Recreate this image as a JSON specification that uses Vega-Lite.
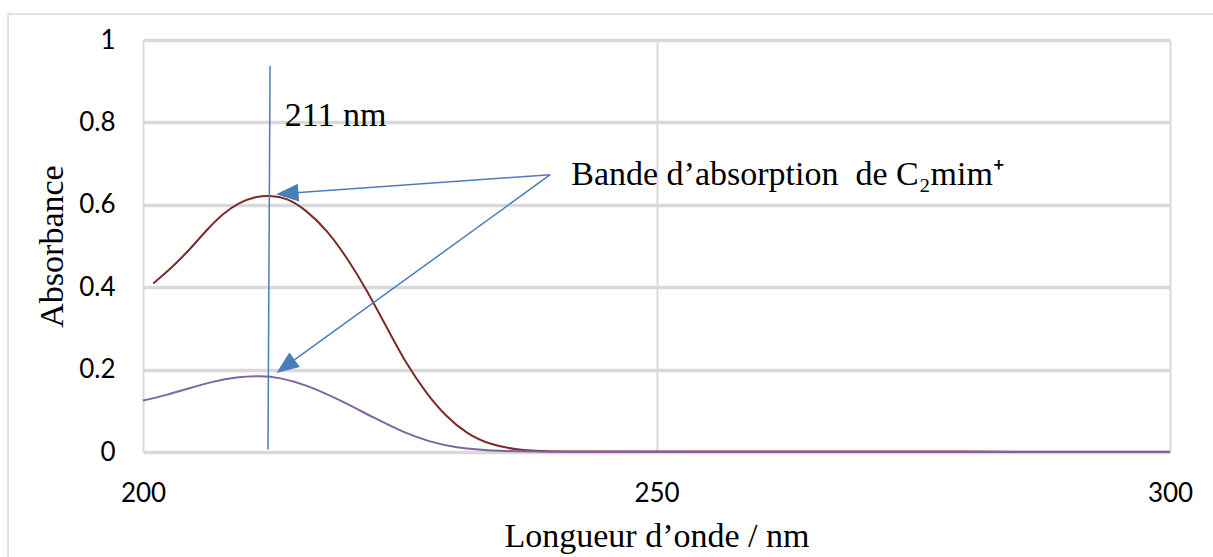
{
  "$schema": "https://vega.github.io/schema/vega-lite/v6.json",
  "width": 1027,
  "height": 412,
  "autosize": "none",
  "padding": {"left": 143, "top": 40, "right": 43, "bottom": 105},
  "background": "white",
  "config": {"view": {"stroke": null}},
  "datasets": {
    "spectra": [
      {"x": 201.0, "y": 0.409, "series": "A"},
      {"x": 202.9, "y": 0.450, "series": "A"},
      {"x": 204.5, "y": 0.490, "series": "A"},
      {"x": 206.2, "y": 0.539, "series": "A"},
      {"x": 207.8, "y": 0.579, "series": "A"},
      {"x": 209.4, "y": 0.606, "series": "A"},
      {"x": 211.0, "y": 0.620, "series": "A"},
      {"x": 212.3, "y": 0.623, "series": "A"},
      {"x": 214.0, "y": 0.617, "series": "A"},
      {"x": 215.9, "y": 0.587, "series": "A"},
      {"x": 217.9, "y": 0.539, "series": "A"},
      {"x": 219.8, "y": 0.474, "series": "A"},
      {"x": 221.8, "y": 0.393, "series": "A"},
      {"x": 223.7, "y": 0.304, "series": "A"},
      {"x": 225.6, "y": 0.215, "series": "A"},
      {"x": 227.6, "y": 0.142, "series": "A"},
      {"x": 229.5, "y": 0.086, "series": "A"},
      {"x": 231.5, "y": 0.045, "series": "A"},
      {"x": 233.8, "y": 0.017, "series": "A"},
      {"x": 237.0, "y": 0.003, "series": "A"},
      {"x": 240.3, "y": 0.001, "series": "A"},
      {"x": 250.0, "y": 0.001, "series": "A"},
      {"x": 260.0, "y": 0.001, "series": "A"},
      {"x": 270.0, "y": 0.001, "series": "A"},
      {"x": 280.0, "y": 0.001, "series": "A"},
      {"x": 290.0, "y": 0.0005, "series": "A"},
      {"x": 300.0, "y": 0.0005, "series": "A"},
      {"x": 200.0, "y": 0.125, "series": "B"},
      {"x": 202.3, "y": 0.138, "series": "B"},
      {"x": 204.5, "y": 0.155, "series": "B"},
      {"x": 206.8, "y": 0.171, "series": "B"},
      {"x": 209.1, "y": 0.182, "series": "B"},
      {"x": 211.4, "y": 0.185, "series": "B"},
      {"x": 213.3, "y": 0.181, "series": "B"},
      {"x": 215.9, "y": 0.163, "series": "B"},
      {"x": 219.2, "y": 0.126, "series": "B"},
      {"x": 222.4, "y": 0.084, "series": "B"},
      {"x": 225.6, "y": 0.045, "series": "B"},
      {"x": 227.9, "y": 0.025, "series": "B"},
      {"x": 230.5, "y": 0.010, "series": "B"},
      {"x": 233.7, "y": 0.003, "series": "B"},
      {"x": 238.0, "y": 0.0005, "series": "B"},
      {"x": 250.0, "y": 0.0, "series": "B"},
      {"x": 300.0, "y": 0.0, "series": "B"}
    ],
    "marker": [{"x": 212.17, "y": 0.006, "x2": 212.37, "y2": 0.937}],
    "arrowTop": [{"x": 239.65, "y": 0.673, "x2": 214.2, "y2": 0.6278}],
    "arrowBottom": [{"x": 239.65, "y": 0.673, "x2": 214.0, "y2": 0.2100}],
    "headTop": [{"x": 214.05, "y": 0.6275}],
    "headBottom": [{"x": 213.88, "y": 0.2078}],
    "labels": [
      {"x": 213.8, "y": 0.7913, "text": "211 nm"},
      {"x": 241.7, "y": 0.648, "text": "Bande d’absorption\u00a0 de C₂mim⁺"}
    ],
    "frame": [{"x": 186.86, "x2": 306, "y": -0.3, "y2": 1.063}]
  },
  "layer": [
    {
      "data": {"name": "spectra"},
      "mark": {"type": "line", "interpolate": "basis", "strokeWidth": 2},
      "encoding": {
        "x": {
          "field": "x", "type": "quantitative",
          "scale": {"domain": [200, 300], "nice": false, "zero": false},
          "axis": {
            "title": "Longueur d’onde / nm",
            "values": [200, 250, 300],
            "format": "d",
            "grid": true, "gridColor": "#d9d9d9", "gridWidth": 2,
            "domain": false, "ticks": false, "tickSize": 0,
            "labelFont": "Lato", "labelFontSize": 26, "labelColor": "#000000",
            "labelPadding": 28, "labelFlush": false, "labelOverlap": false,
            "titleFont": "Liberation Serif", "titleFontSize": 34, "titleFontWeight": "normal",
            "titleColor": "#000000", "titlePadding": 13
          }
        },
        "y": {
          "field": "y", "type": "quantitative",
          "scale": {"domain": [0, 1], "nice": false},
          "axis": {
            "title": "Absorbance",
            "values": [0, 0.2, 0.4, 0.6, 0.8, 1],
            "format": "~g",
            "grid": true, "gridColor": "#d9d9d9", "gridWidth": 3.5,
            "domain": false, "ticks": false, "tickSize": 0,
            "labelFont": "Lato", "labelFontSize": 26, "labelColor": "#000000",
            "labelPadding": 28, "labelFlush": false, "labelOverlap": false,
            "titleFont": "Liberation Serif", "titleFontSize": 34, "titleFontWeight": "normal",
            "titleColor": "#000000", "titlePadding": 9
          }
        },
        "color": {
          "field": "series", "type": "nominal",
          "scale": {"domain": ["A", "B"], "range": ["#7D2A28", "#8064A2"]},
          "legend": null
        }
      }
    },
    {
      "data": {"name": "frame"},
      "mark": {"type": "rect", "fillOpacity": 0, "fill": "white", "stroke": "#d9d9d9", "strokeWidth": 1.5},
      "encoding": {
        "x": {"field": "x", "type": "quantitative"},
        "x2": {"field": "x2"},
        "y": {"field": "y", "type": "quantitative"},
        "y2": {"field": "y2"}
      }
    },
    {
      "data": {"name": "marker"},
      "mark": {"type": "rule", "color": "#4A7EBB", "strokeWidth": 1.5},
      "encoding": {
        "x": {"field": "x", "type": "quantitative"},
        "x2": {"field": "x2"},
        "y": {"field": "y", "type": "quantitative"},
        "y2": {"field": "y2"}
      }
    },
    {
      "data": {"name": "arrowTop"},
      "mark": {"type": "rule", "color": "#4A7EBB", "strokeWidth": 1.5},
      "encoding": {
        "x": {"field": "x", "type": "quantitative"},
        "x2": {"field": "x2"},
        "y": {"field": "y", "type": "quantitative"},
        "y2": {"field": "y2"}
      }
    },
    {
      "data": {"name": "arrowBottom"},
      "mark": {"type": "rule", "color": "#4A7EBB", "strokeWidth": 1.5},
      "encoding": {
        "x": {"field": "x", "type": "quantitative"},
        "x2": {"field": "x2"},
        "y": {"field": "y", "type": "quantitative"},
        "y2": {"field": "y2"}
      }
    },
    {
      "data": {"name": "headTop"},
      "mark": {"type": "point", "shape": "M-1,0L1,-0.8L1,0.8Z", "size": 500, "angle": 355.85, "filled": true, "color": "#4A7EBB", "opacity": 1},
      "encoding": {
        "x": {"field": "x", "type": "quantitative"},
        "y": {"field": "y", "type": "quantitative"}
      }
    },
    {
      "data": {"name": "headBottom"},
      "mark": {"type": "point", "shape": "M-1,0L1,-0.8L1,0.8Z", "size": 500, "angle": 324.07, "filled": true, "color": "#4A7EBB", "opacity": 1},
      "encoding": {
        "x": {"field": "x", "type": "quantitative"},
        "y": {"field": "y", "type": "quantitative"}
      }
    },
    {
      "data": {"name": "labels"},
      "mark": {"type": "text", "font": "Liberation Serif", "fontSize": 34, "align": "left", "baseline": "alphabetic", "color": "#000000"},
      "encoding": {
        "x": {"field": "x", "type": "quantitative"},
        "y": {"field": "y", "type": "quantitative"},
        "text": {"field": "text"}
      }
    }
  ]
}
